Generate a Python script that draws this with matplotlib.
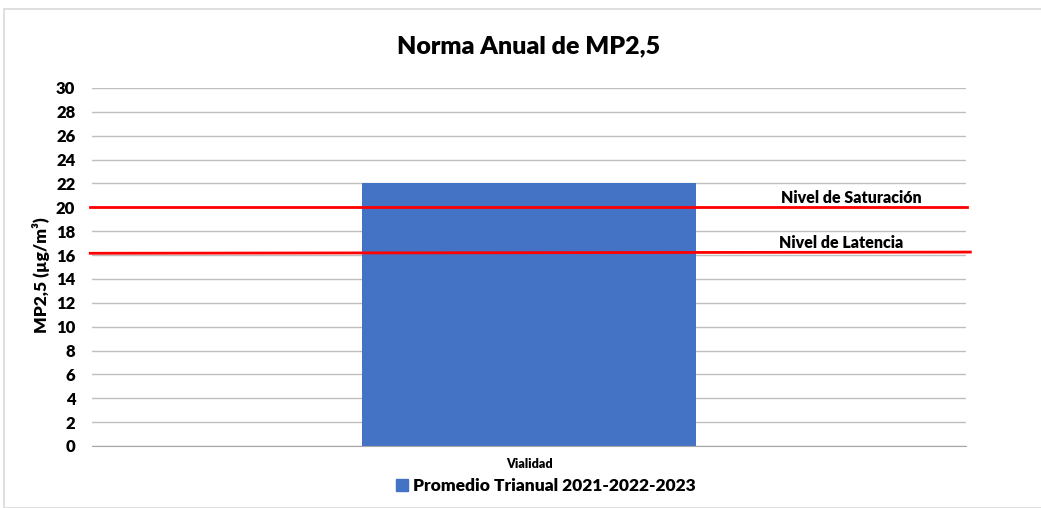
import matplotlib
matplotlib.use("Agg")
import matplotlib.pyplot as plt
from matplotlib.patches import Rectangle, Patch

categories = ["Vialidad"]
values = [22]
series_name = "Promedio Trianual 2021-2022-2023"
saturacion = 20
latencia = 16.15
yticks = list(range(0, 31, 2))

plt.rcParams['font.family'] = ['Lato', 'DejaVu Sans']
BW = 'heavy'
W, H = 1041, 508
fig = plt.figure(figsize=(W/100, H/100), dpi=100)
fig.patches.append(Rectangle((4/W, 0), 1.2, 1 - 8.5/H, transform=fig.transFigure,
                             fill=False, edgecolor='#D9D9D9', linewidth=1.2))
ax = fig.add_axes([92/W, 1-446/H, (966-92)/W, (446-88)/H])

ax.bar(categories, values, width=0.383, color='#4472C4', zorder=2)
ax.set_xlim(-0.5, 0.5)
ax.set_ylim(0, 30)
ax.set_yticks(yticks)
ax.set_yticklabels([str(t) for t in yticks], fontsize=12, fontweight=BW)
ax.grid(axis='y', color='#BFBFBF', linewidth=1, zorder=0)
ax.set_axisbelow(True)
for s in ['top', 'right', 'left']:
    ax.spines[s].set_visible(False)
ax.spines['bottom'].set_color('#A6A6A6')
ax.tick_params(axis='y', length=0, pad=12)
ax.tick_params(axis='x', length=0, labelsize=9, pad=9)
for lab in ax.get_xticklabels():
    lab.set_fontweight(BW)

ax.plot([-0.002, 1.001], [saturacion, saturacion], color='#FF0000', linewidth=2,
        transform=ax.get_yaxis_transform(), clip_on=False, zorder=3)
ax.plot([-0.002, 1.005], [latencia, latencia + 0.1], color='#FF0000', linewidth=2,
        transform=ax.get_yaxis_transform(), clip_on=False, zorder=3)

fig.text(851/W, 1-198/H, "Nivel de Saturación", fontsize=11.5, fontweight=BW,
         ha='center', va='center')
fig.text(841/W, 1-243/H, "Nivel de Latencia", fontsize=11.5, fontweight=BW,
         ha='center', va='center')

fig.text(41/W, 1-275/H, "MP2,5 (µg/m³)", fontsize=12.5, fontweight=BW,
         rotation=90, ha='center', va='center')

fig.text(529/W, 1-46/H, "Norma Anual de MP2,5", va='center', ha='center',
         fontsize=18, fontweight=BW)

fig.legend(handles=[Patch(color='#4472C4', label=series_name)],
           loc='center', bbox_to_anchor=(546/W, 1-486/H), frameon=False,
           prop={'size': 12.5, 'weight': BW}, handlelength=0.7, handleheight=0.7,
           handletextpad=0.3)

fig.savefig("out.png", dpi=100)
